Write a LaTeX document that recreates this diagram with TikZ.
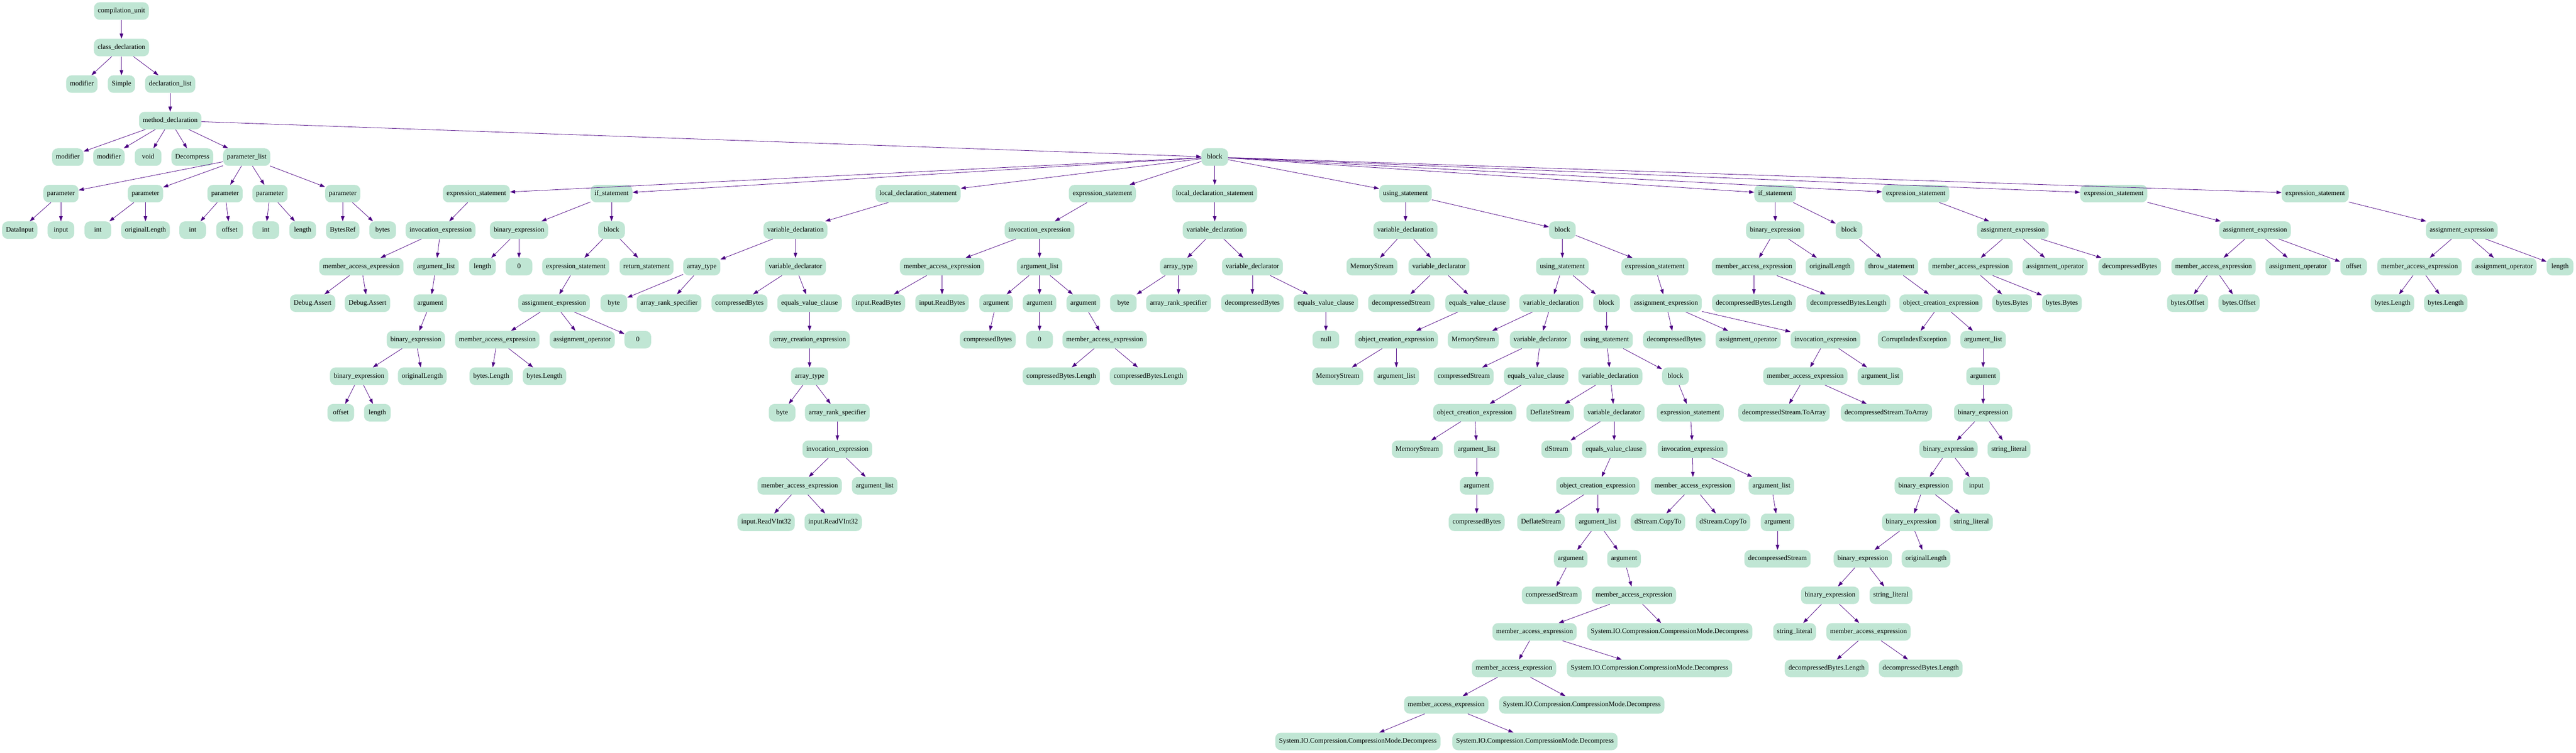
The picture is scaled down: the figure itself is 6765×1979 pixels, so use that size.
\documentclass[tikz,border=0pt]{standalone}
\usepackage{fontspec}
\setmainfont{Liberation Serif}
\usetikzlibrary{arrows.meta}
\definecolor{nodefill}{HTML}{C0E6D4}
\definecolor{edgecol}{HTML}{4B0082}
\tikzset{
  n/.style={fill=nodefill, rounded corners=11pt, minimum height=34.5pt, minimum width=52.5pt,
    inner xsep=7.5pt, inner ysep=0pt, font=\fontsize{13.6}{16}\selectfont, text height=9.5pt, text depth=3pt},
  e/.style={draw=edgecol, line width=0.8pt, -{Triangle[length=10pt,width=7pt]}}
}
\begin{document}
\begin{tikzpicture}[x=0.75pt, y=-0.75pt]
\fill[white] (0,0) rectangle (6765,1979);
\useasboundingbox (0,0) rectangle (6765,1979);
% top
\node[n] (cu) at (319,29) {compilation\_unit};
\node[n] (cd) at (319,125) {class\_declaration};
\node[n] (mod1) at (215,221) {modifier};
\node[n] (simple) at (319,221) {Simple};
\node[n] (dl) at (447,221) {declaration\_list};
\node[n] (md) at (447,317) {method\_declaration};
\node[n] (mod2) at (178,413) {modifier};
\node[n] (mod3) at (286,413) {modifier};
\node[n] (void) at (389,413) {void};
\node[n] (dec) at (505,413) {Decompress};
\node[n] (pl) at (648,413) {parameter\_list};
\node[n] (blk) at (3190,413) {block};
% parameters
\node[n] (p1) at (160,509) {parameter};
\node[n] (p2) at (382,509) {parameter};
\node[n] (p3) at (591,509) {parameter};
\node[n] (p4) at (709,509) {parameter};
\node[n] (p5) at (900,509) {parameter};
\node[n] (p1a) at (52,605) {DataInput};
\node[n] (p1b) at (160,605) {input};
\node[n] (p2a) at (257,605) {int};
\node[n] (p2b) at (382,605) {originalLength};
\node[n] (p3a) at (506,605) {int};
\node[n] (p3b) at (603,605) {offset};
\node[n] (p4a) at (698,605) {int};
\node[n] (p4b) at (795,605) {length};
\node[n] (p5a) at (900,605) {BytesRef};
\node[n] (p5b) at (1005,605) {bytes};
% statements
\node[n] (s1) at (1251,509) {expression\_statement};
\node[n] (s2) at (1606,509) {if\_statement};
\node[n] (s3) at (2411,509) {local\_declaration\_statement};
\node[n] (s4) at (2895,509) {expression\_statement};
\node[n] (s5) at (3190,509) {local\_declaration\_statement};
\node[n] (s6) at (3691,509) {using\_statement};
\node[n] (s7) at (4662,509) {if\_statement};
\node[n] (s8) at (5031,509) {expression\_statement};
\node[n] (s9) at (5551,509) {expression\_statement};
\node[n] (s10) at (6080,509) {expression\_statement};
% s1
\node[n] (s1a) at (1157,605) {invocation\_expression};
\node[n] (s1b) at (949,701) {member\_access\_expression};
\node[n] (s1c) at (1145,701) {argument\_list};
\node[n] (s1d) at (821,797) {Debug.Assert};
\node[n] (s1e) at (965,797) {Debug.Assert};
\node[n] (s1f) at (1130,797) {argument};
\node[n] (s1g) at (1092,893) {binary\_expression};
\node[n] (s1h) at (943,989) {binary\_expression};
\node[n] (s1i) at (1109,989) {originalLength};
\node[n] (s1j) at (895,1085) {offset};
\node[n] (s1k) at (991,1085) {length};
% s2
\node[n] (s2a) at (1363,605) {binary\_expression};
\node[n] (s2b) at (1606,605) {block};
\node[n] (s2c) at (1267,701) {length};
\node[n] (s2d) at (1363,701) {0};
\node[n] (s2e) at (1512,701) {expression\_statement};
\node[n] (s2f) at (1698,701) {return\_statement};
\node[n] (s2g) at (1455,797) {assignment\_expression};
\node[n] (s2h) at (1306,893) {member\_access\_expression};
\node[n] (s2i) at (1529,893) {assignment\_operator};
\node[n] (s2j) at (1675,893) {0};
\node[n] (s2k) at (1290,989) {bytes.Length};
\node[n] (s2l) at (1430,989) {bytes.Length};
% s3
\node[n] (s3a) at (2089,605) {variable\_declaration};
\node[n] (s3b) at (1843,701) {array\_type};
\node[n] (s3c) at (2089,701) {variable\_declarator};
\node[n] (s3d) at (1612,797) {byte};
\node[n] (s3e) at (1757,797) {array\_rank\_specifier};
\node[n] (s3f) at (1942,797) {compressedBytes};
\node[n] (s3g) at (2126,797) {equals\_value\_clause};
\node[n] (s3h) at (2126,893) {array\_creation\_expression};
\node[n] (s3i) at (2126,989) {array\_type};
\node[n] (s3j) at (2054,1085) {byte};
\node[n] (s3k) at (2199,1085) {array\_rank\_specifier};
\node[n] (s3l) at (2199,1181) {invocation\_expression};
\node[n] (s3m) at (2100,1277) {member\_access\_expression};
\node[n] (s3n) at (2297,1277) {argument\_list};
\node[n] (s3o) at (2012,1373) {input.ReadVInt32};
\node[n] (s3p) at (2188,1373) {input.ReadVInt32};
% s4
\node[n] (s4a) at (2730,605) {invocation\_expression};
\node[n] (s4b) at (2474,701) {member\_access\_expression};
\node[n] (s4c) at (2730,701) {argument\_list};
\node[n] (s4d) at (2307,797) {input.ReadBytes};
\node[n] (s4e) at (2474,797) {input.ReadBytes};
\node[n] (s4f) at (2616,797) {argument};
\node[n] (s4g) at (2730,797) {argument};
\node[n] (s4h) at (2845,797) {argument};
\node[n] (s4i) at (2594,893) {compressedBytes};
\node[n] (s4j) at (2730,893) {0};
\node[n] (s4k) at (2901,893) {member\_access\_expression};
\node[n] (s4l) at (2787,989) {compressedBytes.Length};
\node[n] (s4m) at (3016,989) {compressedBytes.Length};
% s5
\node[n] (s5a) at (3190,605) {variable\_declaration};
\node[n] (s5b) at (3095,701) {array\_type};
\node[n] (s5c) at (3289,701) {variable\_declarator};
\node[n] (s5d) at (2950,797) {byte};
\node[n] (s5e) at (3095,797) {array\_rank\_specifier};
\node[n] (s5f) at (3289,797) {decompressedBytes};
\node[n] (s5g) at (3482,797) {equals\_value\_clause};
\node[n] (s5h) at (3482,893) {null};
% s6
\node[n] (s6a) at (3691,605) {variable\_declaration};
\node[n] (s6b) at (4103,605) {block};
\node[n] (s6c) at (3603,701) {MemoryStream};
\node[n] (s6d) at (3779,701) {variable\_declarator};
\node[n] (s6e) at (3680,797) {decompressedStream};
\node[n] (s6f) at (3880,797) {equals\_value\_clause};
\node[n] (s6g) at (3667,893) {object\_creation\_expression};
\node[n] (s6h) at (3513,989) {MemoryStream};
\node[n] (s6i) at (3667,989) {argument\_list};
\node[n] (s6j) at (4103,701) {using\_statement};
\node[n] (s6k) at (4346,701) {expression\_statement};
\node[n] (s6l) at (4074,797) {variable\_declaration};
\node[n] (s6m) at (4219,797) {block};
\node[n] (s6n) at (3869,893) {MemoryStream};
\node[n] (s6o) at (4045,893) {variable\_declarator};
\node[n] (s6p) at (3844,989) {compressedStream};
\node[n] (s6q) at (4034,989) {equals\_value\_clause};
\node[n] (s6r) at (3873,1085) {object\_creation\_expression};
\node[n] (s6s) at (3722,1181) {MemoryStream};
\node[n] (s6t) at (3878,1181) {argument\_list};
\node[n] (s6u) at (3878,1277) {argument};
\node[n] (s6v) at (3878,1373) {compressedBytes};
\node[n] (s6w) at (4219,893) {using\_statement};
\node[n] (s6x) at (4229,989) {variable\_declaration};
\node[n] (s6y) at (4400,989) {block};
\node[n] (s6z) at (4071,1085) {DeflateStream};
\node[n] (t1) at (4239,1085) {variable\_declarator};
\node[n] (t2) at (4088,1181) {dStream};
\node[n] (t3) at (4239,1181) {equals\_value\_clause};
\node[n] (t4) at (4196,1277) {object\_creation\_expression};
\node[n] (t5) at (4047,1373) {DeflateStream};
\node[n] (t6) at (4196,1373) {argument\_list};
\node[n] (t7) at (4125,1469) {argument};
\node[n] (t8) at (4265,1469) {argument};
\node[n] (t9) at (4075,1565) {compressedStream};
\node[n] (t10) at (4291,1565) {member\_access\_expression};
\node[n] (t11) at (4030,1661) {member\_access\_expression};
\node[n] (t12) at (4385,1661) {System.IO.Compression.CompressionMode.Decompress};
\node[n] (t13) at (3976,1757) {member\_access\_expression};
\node[n] (t14) at (4332,1757) {System.IO.Compression.CompressionMode.Decompress};
\node[n] (t15) at (3798,1853) {member\_access\_expression};
\node[n] (t16) at (4154,1853) {System.IO.Compression.CompressionMode.Decompress};
\node[n] (t17) at (3566,1949) {System.IO.Compression.CompressionMode.Decompress};
\node[n] (t18) at (4031,1949) {System.IO.Compression.CompressionMode.Decompress};
\node[n] (t19) at (4439,1085) {expression\_statement};
\node[n] (t20) at (4445,1181) {invocation\_expression};
\node[n] (t21) at (4446,1277) {member\_access\_expression};
\node[n] (t22) at (4652,1277) {argument\_list};
\node[n] (t23) at (4354,1373) {dStream.CopyTo};
\node[n] (t24) at (4525,1373) {dStream.CopyTo};
\node[n] (t25) at (4668,1373) {argument};
\node[n] (t26) at (4668,1469) {decompressedStream};
\node[n] (t27) at (4375,797) {assignment\_expression};
\node[n] (t28) at (4397,893) {decompressedBytes};
\node[n] (t29) at (4591,893) {assignment\_operator};
\node[n] (t30) at (4794,893) {invocation\_expression};
\node[n] (t31) at (4741,989) {member\_access\_expression};
\node[n] (t32) at (4938,989) {argument\_list};
\node[n] (t33) at (4685,1085) {decompressedStream.ToArray};
\node[n] (t34) at (4954,1085) {decompressedStream.ToArray};
% s7
\node[n] (u1) at (4662,605) {binary\_expression};
\node[n] (u2) at (4856,605) {block};
\node[n] (u3) at (4606,701) {member\_access\_expression};
\node[n] (u4) at (4806,701) {originalLength};
\node[n] (u5) at (4606,797) {decompressedBytes.Length};
\node[n] (u6) at (4854,797) {decompressedBytes.Length};
\node[n] (u7) at (4967,701) {throw\_statement};
\node[n] (u8) at (5097,797) {object\_creation\_expression};
\node[n] (u9) at (5027,893) {CorruptIndexException};
\node[n] (u10) at (5208,893) {argument\_list};
\node[n] (u11) at (5208,989) {argument};
\node[n] (u12) at (5208,1085) {binary\_expression};
\node[n] (u13) at (5117,1181) {binary\_expression};
\node[n] (u14) at (5276,1181) {string\_literal};
\node[n] (u15) at (5052,1277) {binary\_expression};
\node[n] (u16) at (5190,1277) {input};
\node[n] (u17) at (5019,1373) {binary\_expression};
\node[n] (u18) at (5177,1373) {string\_literal};
\node[n] (u19) at (4892,1469) {binary\_expression};
\node[n] (u20) at (5058,1469) {originalLength};
\node[n] (u21) at (4806,1565) {binary\_expression};
\node[n] (u22) at (4966,1565) {string\_literal};
\node[n] (u23) at (4713,1661) {string\_literal};
\node[n] (u24) at (4907,1661) {member\_access\_expression};
\node[n] (u25) at (4797,1757) {decompressedBytes.Length};
\node[n] (u26) at (5044,1757) {decompressedBytes.Length};
% s8
\node[n] (v1) at (5286,605) {assignment\_expression};
\node[n] (v2) at (5175,701) {member\_access\_expression};
\node[n] (v3) at (5397,701) {assignment\_operator};
\node[n] (v4) at (5593,701) {decompressedBytes};
\node[n] (v5) at (5284,797) {bytes.Bytes};
\node[n] (v6) at (5415,797) {bytes.Bytes};
% s9
\node[n] (w1) at (5922,605) {assignment\_expression};
\node[n] (w2) at (5813,701) {member\_access\_expression};
\node[n] (w3) at (6035,701) {assignment\_operator};
\node[n] (w4) at (6181,701) {offset};
\node[n] (w5) at (5745,797) {bytes.Offset};
\node[n] (w6) at (5880,797) {bytes.Offset};
% s10
\node[n] (x1) at (6465,605) {assignment\_expression};
\node[n] (x2) at (6354,701) {member\_access\_expression};
\node[n] (x3) at (6576,701) {assignment\_operator};
\node[n] (x4) at (6723,701) {length};
\node[n] (x5) at (6283,797) {bytes.Length};
\node[n] (x6) at (6423,797) {bytes.Length};
% edges
\foreach \a/\b in {cu/cd, cd/mod1, cd/simple, cd/dl, dl/md, md/mod2, md/mod3, md/void, md/dec, md/pl, md/blk,
  pl/p1, pl/p2, pl/p3, pl/p4, pl/p5,
  p1/p1a, p1/p1b, p2/p2a, p2/p2b, p3/p3a, p3/p3b, p4/p4a, p4/p4b, p5/p5a, p5/p5b,
  blk/s1, blk/s2, blk/s3, blk/s4, blk/s5, blk/s6, blk/s7, blk/s8, blk/s9, blk/s10,
  s1/s1a, s1a/s1b, s1a/s1c, s1b/s1d, s1b/s1e, s1c/s1f, s1f/s1g, s1g/s1h, s1g/s1i, s1h/s1j, s1h/s1k,
  s2/s2a, s2/s2b, s2a/s2c, s2a/s2d, s2b/s2e, s2b/s2f, s2e/s2g, s2g/s2h, s2g/s2i, s2g/s2j, s2h/s2k, s2h/s2l,
  s3/s3a, s3a/s3b, s3a/s3c, s3b/s3d, s3b/s3e, s3c/s3f, s3c/s3g, s3g/s3h, s3h/s3i, s3i/s3j, s3i/s3k, s3k/s3l, s3l/s3m, s3l/s3n, s3m/s3o, s3m/s3p,
  s4/s4a, s4a/s4b, s4a/s4c, s4b/s4d, s4b/s4e, s4c/s4f, s4c/s4g, s4c/s4h, s4f/s4i, s4g/s4j, s4h/s4k, s4k/s4l, s4k/s4m,
  s5/s5a, s5a/s5b, s5a/s5c, s5b/s5d, s5b/s5e, s5c/s5f, s5c/s5g, s5g/s5h,
  s6/s6a, s6/s6b, s6a/s6c, s6a/s6d, s6d/s6e, s6d/s6f, s6f/s6g, s6g/s6h, s6g/s6i,
  s6b/s6j, s6b/s6k, s6j/s6l, s6j/s6m, s6l/s6n, s6l/s6o, s6o/s6p, s6o/s6q, s6q/s6r, s6r/s6s, s6r/s6t, s6t/s6u, s6u/s6v,
  s6m/s6w, s6w/s6x, s6w/s6y, s6x/s6z, s6x/t1, t1/t2, t1/t3, t3/t4, t4/t5, t4/t6, t6/t7, t6/t8, t7/t9, t8/t10,
  t10/t11, t10/t12, t11/t13, t11/t14, t13/t15, t13/t16, t15/t17, t15/t18,
  s6y/t19, t19/t20, t20/t21, t20/t22, t21/t23, t21/t24, t22/t25, t25/t26,
  s6k/t27, t27/t28, t27/t29, t27/t30, t30/t31, t30/t32, t31/t33, t31/t34,
  s7/u1, s7/u2, u1/u3, u1/u4, u3/u5, u3/u6, u2/u7, u7/u8, u8/u9, u8/u10, u10/u11, u11/u12, u12/u13, u12/u14,
  u13/u15, u13/u16, u15/u17, u15/u18, u17/u19, u17/u20, u19/u21, u19/u22, u21/u23, u21/u24, u24/u25, u24/u26,
  s8/v1, v1/v2, v1/v3, v1/v4, v2/v5, v2/v6,
  s9/w1, w1/w2, w1/w3, w1/w4, w2/w5, w2/w6,
  s10/x1, x1/x2, x1/x3, x1/x4, x2/x5, x2/x6}
  \draw[e] (\a) -- (\b);
\end{tikzpicture}
\end{document}
